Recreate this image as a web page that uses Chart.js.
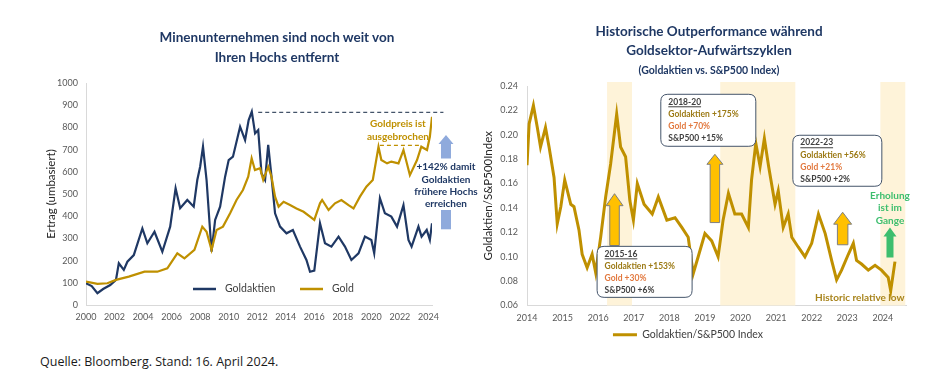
<!DOCTYPE html>
<html lang="de">
<head>
<meta charset="UTF-8">
<title>Goldaktien vs. Gold und S&amp;P500</title>
<script src="https://cdn.jsdelivr.net/npm/chart.js"></script>
<style>
  body { margin: 0; background: #fff; font-family: Lato, sans-serif; }
  #page { position: relative; width: 939px; height: 386px; overflow: hidden; background: #fff; }
  canvas { position: absolute; top: 0; }
  #leftChart { left: 0; }
  #rightChart { left: 470px; }
  .title { position: absolute; color: #1F3864; font-weight: bold; text-align: center; width: 320px; font-size: 13.5px; }
  #leftTitle { left: 117px; top: 27px; line-height: 20px; }
  #rightTitle { left: 549px; top: 22px; line-height: 19px; }
  #rightTitle .sub { font-size: 10.5px; line-height: 16px; }
  #source { position: absolute; left: 40px; top: 353px; font-size: 12.5px; color: #1a1a1a; font-family: 'Open Sans', sans-serif; }
</style>
</head>
<body>
<div id="page">
  <canvas id="leftChart" width="482" height="340"></canvas>
  <canvas id="rightChart" width="469" height="360"></canvas>
  <div class="title" id="leftTitle">Minenunternehmen sind noch weit von<br>Ihren Hochs entfernt</div>
  <div class="title" id="rightTitle">Historische Outperformance während<br>Goldsektor-Aufwärtszyklen<br><span class="sub">(Goldaktien vs. S&amp;P500 Index)</span></div>
  <div id="source">Quelle: Bloomberg. Stand: 16. April 2024.</div>
</div>

<script>
    // left chart: rebased returns (2000 = 100)
    const aktienYears = [2000.0, 2000.4, 2000.8, 2001.2, 2001.7, 2002.1, 2002.3, 2002.65, 2002.9, 2003.35,
        2003.95, 2004.3, 2004.8, 2005.35, 2005.9, 2006.28, 2006.6, 2007.1, 2007.55, 2007.8,
        2008.0, 2008.2, 2008.45, 2008.8, 2009.05, 2009.4, 2009.75, 2010.0, 2010.3, 2010.8,
        2011.15, 2011.4, 2011.62, 2011.85, 2012.07, 2012.3, 2012.55, 2012.77, 2013.0, 2013.25,
        2013.6, 2014.05, 2014.5, 2015.0, 2015.45, 2015.7, 2016.0, 2016.4, 2016.75, 2017.2,
        2017.7, 2018.15, 2018.6, 2019.1, 2019.55, 2020.0, 2020.2, 2020.6, 2020.95, 2021.4,
        2021.8, 2022.25, 2022.6, 2022.82, 2023.3, 2023.52, 2023.88, 2024.1, 2024.25];
    const goldaktien = [98, 85, 53, 72, 90, 113, 188, 158, 195, 225,
        345, 278, 330, 240, 353, 526, 436, 473, 443, 563,
        623, 713, 563, 240, 383, 443, 578, 653, 668, 803,
        743, 833, 871, 773, 788, 593, 563, 721, 578, 413,
        353, 323, 338, 263, 203, 150, 155, 368, 278, 263,
        308, 263, 203, 233, 308, 293, 233, 481, 413, 398,
        353, 450, 293, 263, 353, 308, 338, 293, 368];

    const goldYears = [2000.0, 2000.8, 2001.5, 2002.1, 2003.0, 2004.1, 2005.0, 2005.7, 2006.4, 2006.9,
        2007.6, 2008.15, 2008.45, 2008.8, 2009.15, 2009.6, 2010.1, 2010.55, 2011.0, 2011.37,
        2011.61, 2011.84, 2012.2, 2012.42, 2012.77, 2013.0, 2013.25, 2013.5, 2013.85, 2014.3,
        2014.75, 2015.25, 2015.7, 2016.0, 2016.4, 2016.55, 2017.0, 2017.45, 2017.9, 2018.4,
        2018.75, 2019.2, 2019.65, 2020.1, 2020.5, 2020.7, 2021.1, 2021.4, 2021.9, 2022.25,
        2022.7, 2023.2, 2023.5, 2023.9, 2024.1, 2024.25];
    const gold = [105, 95, 98, 113, 128, 150, 150, 165, 233, 210,
        248, 353, 330, 248, 338, 353, 413, 473, 518, 578,
        661, 608, 616, 563, 623, 578, 488, 443, 465, 450,
        435, 420, 398, 383, 458, 473, 428, 458, 473, 450,
        435, 488, 533, 563, 713, 653, 638, 646, 638, 698,
        585, 653, 713, 698, 758, 848];

    const leftYTicks = { min: 0, max: 1000, step: 100 };

    // right chart: Goldaktien / S&P500 ratio
    const ratioYears = [2014.0, 2014.06, 2014.18, 2014.29, 2014.38, 2014.52, 2014.62, 2014.76, 2014.85, 2014.95,
        2015.06, 2015.23, 2015.32, 2015.46, 2015.55, 2015.69, 2015.83, 2015.93, 2016.07, 2016.21,
        2016.35, 2016.52, 2016.63, 2016.77, 2016.89, 2016.99, 2017.1, 2017.29, 2017.52, 2017.69,
        2017.93, 2018.16, 2018.35, 2018.53, 2018.67, 2018.81, 2019.0, 2019.19, 2019.37, 2019.51,
        2019.66, 2019.84, 2020.03, 2020.22, 2020.31, 2020.43, 2020.55, 2020.67, 2020.79, 2020.97,
        2021.06, 2021.2, 2021.34, 2021.44, 2021.62, 2021.81, 2022.0, 2022.19, 2022.38, 2022.56,
        2022.7, 2022.84, 2023.03, 2023.17, 2023.26, 2023.4, 2023.59, 2023.78, 2023.96, 2024.15,
        2024.22, 2024.34];
    const ratio = [0.175, 0.209, 0.224, 0.206, 0.190, 0.206, 0.190, 0.165, 0.127, 0.141,
        0.163, 0.143, 0.141, 0.122, 0.102, 0.091, 0.102, 0.087, 0.116, 0.149,
        0.176, 0.217, 0.190, 0.182, 0.146, 0.130, 0.160, 0.143, 0.135, 0.149,
        0.130, 0.132, 0.124, 0.116, 0.086, 0.100, 0.119, 0.113, 0.100, 0.130,
        0.152, 0.135, 0.135, 0.124, 0.163, 0.193, 0.174, 0.197, 0.174, 0.143,
        0.154, 0.124, 0.135, 0.116, 0.108, 0.100, 0.111, 0.135, 0.119, 0.097,
        0.081, 0.089, 0.102, 0.111, 0.097, 0.094, 0.089, 0.093, 0.089, 0.083,
        0.072, 0.096];

    const upcycles = [[2016.25, 2016.95], [2019.43, 2021.54], [2023.93, 2024.63]];

    const NAVY = '#1F3864';
    const GOLD = '#BF9000';
    const TICK = '#595959';

    Chart.defaults.font.family = 'Lato, sans-serif';
    Chart.defaults.color = TICK;

    function toPoints(xs, ys) {
        return xs.map((x, i) => ({ x: x, y: ys[i] }));
    }

    function drawArrow(ctx, cx, tipY, baseY, shaftW, headW, headH, fill, stroke) {
        ctx.beginPath();
        ctx.moveTo(cx, tipY);
        ctx.lineTo(cx + headW / 2, tipY + headH);
        ctx.lineTo(cx + shaftW / 2, tipY + headH);
        ctx.lineTo(cx + shaftW / 2, baseY);
        ctx.lineTo(cx - shaftW / 2, baseY);
        ctx.lineTo(cx - shaftW / 2, tipY + headH);
        ctx.lineTo(cx - headW / 2, tipY + headH);
        ctx.closePath();
        ctx.fillStyle = fill;
        ctx.fill();
        if (stroke) {
            ctx.strokeStyle = stroke;
            ctx.lineWidth = 1;
            ctx.stroke();
        }
    }

    function roundBox(ctx, x, y, w, h, r) {
        ctx.beginPath();
        ctx.moveTo(x + r, y);
        ctx.lineTo(x + w - r, y);
        ctx.quadraticCurveTo(x + w, y, x + w, y + r);
        ctx.lineTo(x + w, y + h - r);
        ctx.quadraticCurveTo(x + w, y + h, x + w - r, y + h);
        ctx.lineTo(x + r, y + h);
        ctx.quadraticCurveTo(x, y + h, x, y + h - r);
        ctx.lineTo(x, y + r);
        ctx.quadraticCurveTo(x, y, x + r, y);
        ctx.closePath();
    }

    // annotations of the left chart (dashed levels, arrow, notes, legend inside plot)
    const leftDecor = {
        id: 'leftDecor',
        afterDatasetsDraw(chart) {
            const { ctx, chartArea, scales: { x, y } } = chart;
            ctx.save();
            ctx.setLineDash([4, 3]);
            ctx.lineWidth = 1.2;
            ctx.strokeStyle = '#44546A';
            ctx.beginPath();
            ctx.moveTo(x.getPixelForValue(2012.07), y.getPixelForValue(868));
            ctx.lineTo(x.getPixelForValue(2025.05), y.getPixelForValue(868));
            ctx.stroke();
            ctx.strokeStyle = GOLD;
            ctx.beginPath();
            ctx.moveTo(x.getPixelForValue(2020.6), y.getPixelForValue(719));
            ctx.lineTo(x.getPixelForValue(2023.55), y.getPixelForValue(719));
            ctx.stroke();
            ctx.setLineDash([]);

            const ax = x.getPixelForValue(2025.23);
            drawArrow(ctx, ax, y.getPixelForValue(766), y.getPixelForValue(660), 10, 15, 9, '#8FAADC');
            ctx.fillStyle = '#8FAADC';
            ctx.fillRect(ax - 5, y.getPixelForValue(428), 10, y.getPixelForValue(341) - y.getPixelForValue(428));

            ctx.textAlign = 'center';
            ctx.textBaseline = 'middle';
            ctx.font = 'bold 10px Lato';
            ctx.fillStyle = NAVY;
            ['+142% damit', 'Goldaktien', 'frühere Hochs', 'erreichen'].forEach((t, i) => {
                ctx.fillText(t, ax, y.getPixelForValue(622) + i * 12.4);
            });
            ctx.fillStyle = GOLD;
            ctx.fillText('Goldpreis ist', x.getPixelForValue(2021.86), y.getPixelForValue(815));
            ctx.fillText('ausgebrochen', x.getPixelForValue(2021.86), y.getPixelForValue(815) + 13);

            // legend
            const ly = chartArea.bottom - 16;
            ctx.lineWidth = 2.5;
            [[NAVY, 107, 'Goldaktien'], [GOLD, 214, 'Gold']].forEach(([c, off, label]) => {
                ctx.strokeStyle = c;
                ctx.beginPath();
                ctx.moveTo(chartArea.left + off, ly);
                ctx.lineTo(chartArea.left + off + 23, ly);
                ctx.stroke();
                ctx.fillStyle = '#404040';
                ctx.textAlign = 'left';
                ctx.font = '10.5px Lato';
                ctx.fillText(label, chartArea.left + off + 32, ly);
            });
            ctx.restore();
        }
    };

    new Chart(document.getElementById('leftChart'), {
        type: 'line',
        data: {
            datasets: [{
                label: 'Gold',
                data: toPoints(goldYears, gold),
                borderColor: GOLD,
                borderWidth: 2.2,
                pointRadius: 0,
                tension: 0
            }, {
                label: 'Goldaktien',
                data: toPoints(aktienYears, goldaktien),
                borderColor: NAVY,
                borderWidth: 2.2,
                pointRadius: 0,
                tension: 0
            }]
        },
        options: {
            responsive: false,
            animation: false,
            layout: { padding: { top: 83, right: 50, bottom: 13, left: 0 } },
            plugins: { legend: { display: false }, tooltip: { enabled: false } },
            scales: {
                x: {
                    type: 'linear',
                    min: 2000,
                    max: 2024.25,
                    grid: { display: false, drawTicks: false },
                    border: { color: '#D9D9D9' },
                    ticks: { stepSize: 2, includeBounds: false, padding: 7, maxRotation: 0, font: { size: 9 }, callback: v => String(v) },
                    afterFit(scale) { scale.height = 22; }
                },
                y: {
                    min: leftYTicks.min,
                    max: leftYTicks.max,
                    grid: { display: false, drawTicks: false },
                    border: { color: '#D9D9D9' },
                    ticks: { stepSize: leftYTicks.step, padding: 8, font: { size: 9 }, callback: v => String(v) },
                    title: { display: true, text: 'Ertrag (umbasiert)', color: '#262626', font: { size: 11.5 }, padding: { top: 44 } },
                    afterFit(scale) { scale.width = 86; }
                }
            }
        },
        plugins: [leftDecor]
    });

    // text boxes and arrows of the right chart
    const notes = [
        { x: 2015.97, y: 0.1085, w: 95, h: 51, head: '2015-16', lines: ['Goldaktien +153%', 'Gold +30%', 'S&P500 +6%'] },
        { x: 2017.76, y: 0.2332, w: 95, h: 52, head: '2018-20', lines: ['Goldaktien +175%', 'Gold +70%', 'S&P500 +15%'] },
        { x: 2021.47, y: 0.1996, w: 89, h: 51, head: '2022-23', lines: ['Goldaktien +56%', 'Gold +21%', 'S&P500 +2%'] }
    ];
    const noteColors = ['#9C7A15', '#E2793F', '#404040'];
    const arrows = [
        { x: 2016.46, tip: 0.1517, base: 0.1092, shaft: 9.5, head: 17, headH: 12 },
        { x: 2019.28, tip: 0.1840, base: 0.1280, shaft: 9.5, head: 16, headH: 10 },
        { x: 2022.87, tip: 0.1365, base: 0.1098, shaft: 10.5, head: 18, headH: 12 }
    ];

    const rightDecor = {
        id: 'rightDecor',
        beforeDatasetsDraw(chart) {
            const { ctx, chartArea, scales: { x } } = chart;
            ctx.save();
            ctx.fillStyle = '#FEF3D9';
            upcycles.forEach(([a, b]) => {
                const x0 = x.getPixelForValue(a);
                const x1 = x.getPixelForValue(b);
                ctx.fillRect(x0, chartArea.top - 4, x1 - x0, chartArea.bottom - chartArea.top + 4);
            });
            ctx.restore();
        },
        afterDatasetsDraw(chart) {
            const { ctx, scales: { x, y } } = chart;
            ctx.save();
            arrows.forEach(a => {
                drawArrow(ctx, x.getPixelForValue(a.x), y.getPixelForValue(a.tip), y.getPixelForValue(a.base),
                    a.shaft, a.head, a.headH, '#FFC000', '#7F7F7F');
            });
            drawArrow(ctx, x.getPixelForValue(2024.2), y.getPixelForValue(0.124), y.getPixelForValue(0.0994),
                7, 13, 9, '#3DBE6E');

            ctx.textBaseline = 'middle';
            notes.forEach(n => {
                const bx = x.getPixelForValue(n.x);
                const by = y.getPixelForValue(n.y);
                roundBox(ctx, bx, by, n.w, n.h, 7);
                ctx.fillStyle = '#fff';
                ctx.fill();
                ctx.strokeStyle = '#44546A';
                ctx.lineWidth = 1;
                ctx.stroke();
                ctx.textAlign = 'left';
                ctx.font = 'bold 8.5px Lato';
                ctx.fillStyle = '#404040';
                const tx = bx + 7.5;
                let ty = by + 7.5;
                ctx.fillText(n.head, tx, ty);
                const hw = ctx.measureText(n.head).width;
                ctx.strokeStyle = '#404040';
                ctx.beginPath();
                ctx.moveTo(tx, ty + 5);
                ctx.lineTo(tx + hw, ty + 5);
                ctx.stroke();
                n.lines.forEach((t, i) => {
                    ty += 12.2;
                    ctx.fillStyle = noteColors[i];
                    ctx.fillText(t, tx, ty);
                });
            });

            ctx.textAlign = 'center';
            ctx.font = 'bold 10px Lato';
            ctx.fillStyle = '#A8841C';
            ctx.fillText('Historic relative low', x.getPixelForValue(2023.35), y.getPixelForValue(0.0666));
            ctx.fillStyle = '#3DBE6E';
            ['Erholung', 'ist im', 'Gange'].forEach((t, i) => {
                ctx.fillText(t, x.getPixelForValue(2024.2), y.getPixelForValue(0.1503) + i * 12.5);
            });
            ctx.restore();
        }
    };

    new Chart(document.getElementById('rightChart'), {
        type: 'line',
        data: {
            datasets: [{
                label: 'Goldaktien/S&P500 Index',
                data: toPoints(ratioYears, ratio),
                borderColor: GOLD,
                borderWidth: 3,
                pointRadius: 0,
                tension: 0
            }]
        },
        options: {
            responsive: false,
            animation: false,
            layout: { padding: { top: 86, right: 33, bottom: 10, left: 0 } },
            plugins: {
                tooltip: { enabled: false },
                legend: {
                    position: 'bottom',
                    labels: {
                        usePointStyle: true,
                        pointStyle: 'line',
                        pointStyleWidth: 24,
                        padding: 4,
                        color: '#404040',
                        font: { size: 10.5 }
                    }
                }
            },
            scales: {
                x: {
                    type: 'linear',
                    min: 2014,
                    max: 2024.65,
                    grid: { display: false, drawTicks: false },
                    border: { color: '#D9D9D9' },
                    ticks: { stepSize: 1, includeBounds: false, padding: 7, maxRotation: 0, font: { size: 9 }, callback: v => String(v) },
                    afterFit(scale) { scale.height = 20; }
                },
                y: {
                    min: 0.06,
                    max: 0.24,
                    grid: { display: false, drawTicks: false },
                    border: { color: '#D9D9D9' },
                    ticks: { stepSize: 0.02, padding: 9, font: { size: 9 }, callback: v => v.toFixed(2) },
                    title: { display: true, text: 'Goldaktien/S&P500Index', color: '#262626', font: { size: 11.5 }, padding: { top: 11 } },
                    afterFit(scale) { scale.width = 57; }
                }
            }
        },
        plugins: [rightDecor]
    });
</script>
</body>
</html>
